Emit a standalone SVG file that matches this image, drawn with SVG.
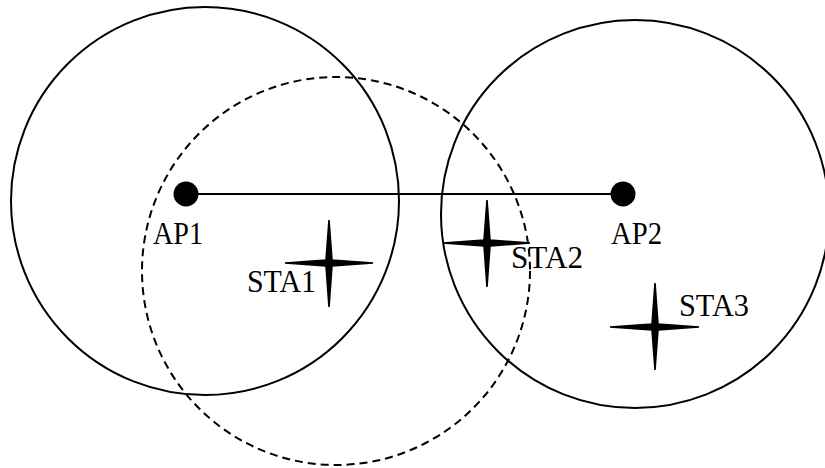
<svg xmlns="http://www.w3.org/2000/svg" width="825" height="468" viewBox="0 0 825 468">
<style>
.range{fill:none;stroke:#000;stroke-width:2}
.dash{fill:none;stroke:#000;stroke-width:2;stroke-dasharray:8 5}
.ap{fill:#000}
.sta{fill:#000;stroke:#000;stroke-width:1.6;stroke-linejoin:miter}
.lbl{font-family:"Liberation Serif","Times New Roman",serif;font-size:31px;fill:#000}
</style>
<rect width="825" height="468" fill="#fff"/>
<g id="ranges">
<circle class="range" cx="205" cy="201" r="194"/>
<circle class="range" cx="635" cy="214" r="194"/>
<circle class="dash" cx="336" cy="271" r="194"/>
</g>
<g id="connectors">
<line x1="186" y1="194" x2="623" y2="194" stroke="#000" stroke-width="2"/>
</g>
<g id="AP1">
<circle class="ap" cx="186" cy="194" r="12.5"/>
<text class="lbl" x="153" y="244" textLength="50" lengthAdjust="spacingAndGlyphs">AP1</text>
</g>
<g id="AP2">
<circle class="ap" cx="623" cy="194" r="12.5"/>
<text class="lbl" x="611" y="244" textLength="51" lengthAdjust="spacingAndGlyphs">AP2</text>
</g>
<g id="STA1">
<polygon class="sta" points="329,220 332,260 373,263 332,266 329,307 326,266 285,263 326,260"/>
<text class="lbl" x="247" y="292" textLength="69" lengthAdjust="spacingAndGlyphs">STA1</text>
</g>
<g id="STA2">
<polygon class="sta" points="487,200 490,240 530,243 490,246 487,287 484,246 443,243 484,240"/>
<text class="lbl" x="511" y="268" textLength="72" lengthAdjust="spacingAndGlyphs">STA2</text>
</g>
<g id="STA3">
<polygon class="sta" points="655,283 658,324 699,327 658,330 655,370 652,330 610,327 652,324"/>
<text class="lbl" x="679" y="316" textLength="70" lengthAdjust="spacingAndGlyphs">STA3</text>
</g>
</svg>
